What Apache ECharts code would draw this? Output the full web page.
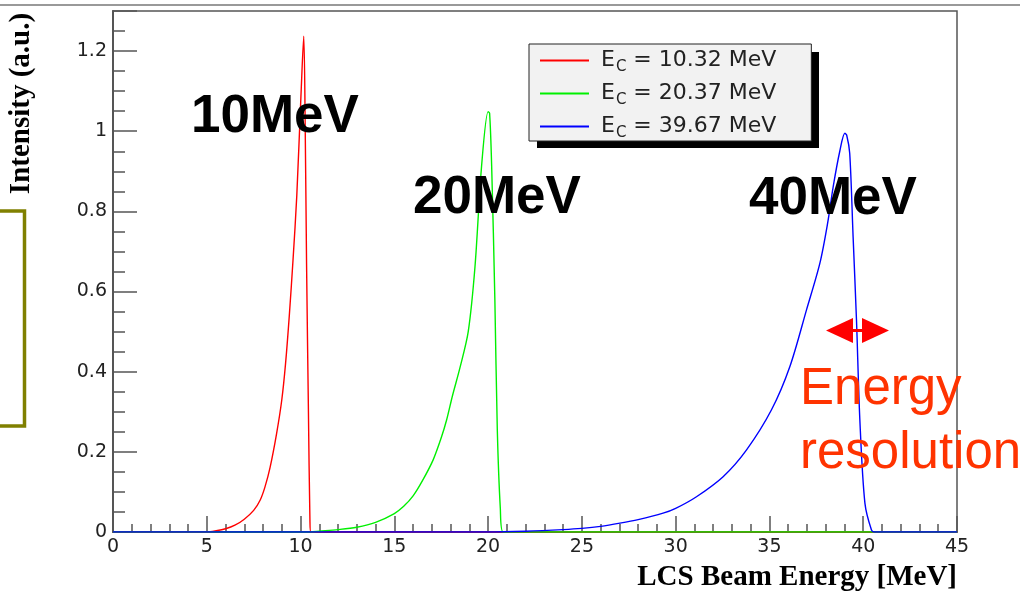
<!DOCTYPE html>
<html><head><meta charset="utf-8">
<script src="https://cdn.jsdelivr.net/npm/echarts@6/dist/echarts.min.js"></script>
<style>html,body{margin:0;padding:0;background:#fff}#c{width:1031px;height:594px}</style>
</head><body><div id="c"></div>
<script>
// ---- data ----
const legendLabels = ['E_C = 10.32 MeV', 'E_C = 20.37 MeV', 'E_C = 39.67 MeV'];
const xRange = [0, 45];
const yRange = [0, 1.3];
const xMajorStep = 5;
const yMajorStep = 0.2;
const yMinorStep = 0.05;
// [energy MeV, intensity a.u.]
const spectrum10 = [[0,0],[5.0,0],[5.5,0.003],[6.0,0.008],[6.5,0.017],[7.0,0.032],[7.5,0.054],[7.85,0.08],[8.1,0.112],[8.37,0.16],[8.72,0.245],[9.0,0.33],[9.2,0.42],[9.4,0.54],[9.6,0.68],[9.8,0.84],[10.02,1.087],[10.17,1.237],[10.25,1.0],[10.32,0.67],[10.42,0.3],[10.5,0.03],[10.55,0],[45,0]];
const spectrum20 = [[0,0],[10.5,0],[11,0.002],[12,0.006],[13,0.012],[14,0.024],[15,0.046],[15.5,0.064],[16,0.09],[16.5,0.128],[17.07,0.18],[17.5,0.235],[17.79,0.28],[18.1,0.34],[18.5,0.41],[18.94,0.5],[19.3,0.662],[19.65,0.912],[20.0,1.049],[20.08,1.045],[20.19,0.912],[20.36,0.58],[20.49,0.255],[20.65,0.06],[20.8,0],[45,0]];
const spectrum40 = [[0,0],[20,0],[22,0.002],[24,0.006],[25,0.009],[26,0.014],[27.03,0.022],[28,0.031],[29.33,0.047],[30,0.059],[31.11,0.088],[32.53,0.138],[33.78,0.205],[35.11,0.305],[36.09,0.413],[36.98,0.555],[37.69,0.671],[38.1,0.77],[38.4,0.862],[38.75,0.95],[39.02,0.995],[39.12,0.99],[39.28,0.945],[39.46,0.737],[39.64,0.53],[39.82,0.28],[40.09,0.072],[40.44,0.005],[40.6,0],[45,0]];
const spectra = [spectrum10, spectrum20, spectrum40];
const lineColors = ['#ff0000', '#00f000', '#0000ff'];

const chart = echarts.init(document.getElementById('c'), null, {renderer: 'canvas'});
const axisCol = '#555';
const tickFont = {fontFamily: 'DejaVu Sans', fontSize: 19, color: '#222'};

const option = {
  animation: false,
  grid: {left: 113, right: 74, top: 11, bottom: 62, show: true, borderColor: axisCol, borderWidth: 1.5, backgroundColor: 'rgba(0,0,0,0)'},
  xAxis: {
    type: 'value', min: xRange[0], max: xRange[1], interval: xMajorStep,
    axisLine: {show: true, onZero: false, lineStyle: {color: axisCol, width: 2}},
    axisTick: {show: true, inside: true, length: 16, lineStyle: {color: axisCol, width: 1.5}},
    minorTick: {show: true, splitNumber: 5, length: 8, lineStyle: {color: axisCol, width: 1.5}},
    splitLine: {show: false}, minorSplitLine: {show: false},
    axisLabel: Object.assign({margin: 6}, tickFont)
  },
  yAxis: [
    {
      type: 'value', position: 'left', min: yRange[0], max: yRange[1], interval: yMajorStep,
      axisLine: {show: true, onZero: false, lineStyle: {color: axisCol, width: 2}},
      axisTick: {show: true, inside: true, length: 24, lineStyle: {color: axisCol, width: 1.5}},
      splitLine: {show: false},
      axisLabel: Object.assign({margin: 6, showMaxLabel: true, formatter: v => (v > 1.25 ? '' : String(Math.round(v * 100) / 100))}, tickFont)
    },
    {
      type: 'value', position: 'left', min: yRange[0], max: yRange[1], interval: yMinorStep,
      axisLine: {show: false},
      axisTick: {show: true, inside: true, length: 12, lineStyle: {color: axisCol, width: 1.5}},
      splitLine: {show: false},
      axisLabel: {show: false}
    }
  ],
  legend: {
    left: 529, top: 44, orient: 'vertical', align: 'left', z: 10,
    icon: 'rect', itemWidth: 49, itemHeight: 2, itemGap: 4,
    padding: [2, 35, 0, 11],
    backgroundColor: '#f2f2f2', borderColor: '#222', borderWidth: 1,
    selectedMode: false,
    data: legendLabels,
    formatter: name => {
      const rest = name.replace(/^E_C/, '');
      return '{e|E}{s|C}{t|' + rest + '}';
    },
    textStyle: {
      fontFamily: 'DejaVu Sans', color: '#222', fontSize: 22,
      rich: {
        e: {fontFamily: 'DejaVu Sans', fontSize: 22, lineHeight: 22, verticalAlign: 'top', color: '#222', padding: [0, 0, 0, 7]},
        s: {fontFamily: 'DejaVu Sans', fontSize: 15, lineHeight: 15, color: '#222', padding: [14, 0, 0, 1]},
        t: {fontFamily: 'DejaVu Sans', fontSize: 22, lineHeight: 22, verticalAlign: 'top', color: '#222'}
      }
    }
  },
  series: spectra.map((d, i) => ({
    name: legendLabels[i], type: 'line', data: d, xAxisIndex: 0, yAxisIndex: 0,
    symbol: 'none', showSymbol: false, smooth: 0.3,
    lineStyle: {color: lineColors[i], width: 1.4}, itemStyle: {color: lineColors[i]},
    z: 3 + i
  })),
  graphic: [
    {type: 'line', z: 1, shape: {x1: 0, y1: 5, x2: 1020, y2: 5}, style: {stroke: '#999', lineWidth: 2}},
    {type: 'rect', z: 1, shape: {x: 537, y: 52, width: 282, height: 96}, style: {fill: '#000'}},
    {type: 'polyline', z: 1, shape: {points: [[0, 211], [24.5, 211], [24.5, 426], [0, 426]]}, style: {stroke: '#808000', lineWidth: 3.5, fill: null}},
    {type: 'text', z: 20, x: 22, y: 103.5, rotation: Math.PI / 2,
      style: {text: 'Intensity (a.u.)', font: 'bold 29px "Liberation Serif"', fill: '#000', align: 'center', verticalAlign: 'middle'}},
    {type: 'text', z: 20, x: 957, y: 578,
      style: {text: 'LCS Beam Energy [MeV]', font: 'bold 29px "Liberation Serif"', fill: '#000', align: 'right', verticalAlign: 'middle'}},
    {type: 'text', z: 20, x: 191, y: 117.5,
      style: {text: '10MeV', font: 'bold 53px "Liberation Sans"', fill: '#000', align: 'left', verticalAlign: 'middle'}},
    {type: 'text', z: 20, x: 413, y: 198.5,
      style: {text: '20MeV', font: 'bold 53px "Liberation Sans"', fill: '#000', align: 'left', verticalAlign: 'middle'}},
    {type: 'text', z: 20, x: 749, y: 199,
      style: {text: '40MeV', font: 'bold 53px "Liberation Sans"', fill: '#000', align: 'left', verticalAlign: 'middle'}},
    {type: 'text', z: 20, x: 800, y: 390,
      style: {text: 'Energy', font: '51px "Liberation Sans"', fill: '#ff3300', align: 'left', verticalAlign: 'middle'}},
    {type: 'text', z: 20, x: 800, y: 454,
      style: {text: 'resolution', font: '51px "Liberation Sans"', fill: '#ff3300', align: 'left', verticalAlign: 'middle'}},
    {type: 'polygon', z: 20, shape: {points: [[826, 330.5], [853, 318], [853, 343]]}, style: {fill: '#ff0000'}},
    {type: 'polygon', z: 20, shape: {points: [[889, 330.5], [862, 318], [862, 343]]}, style: {fill: '#ff0000'}},
    {type: 'line', z: 20, shape: {x1: 850, y1: 330.5, x2: 865, y2: 330.5}, style: {stroke: '#ff0000', lineWidth: 3}}
  ]
};
chart.setOption(option);
</script>
</body></html>
